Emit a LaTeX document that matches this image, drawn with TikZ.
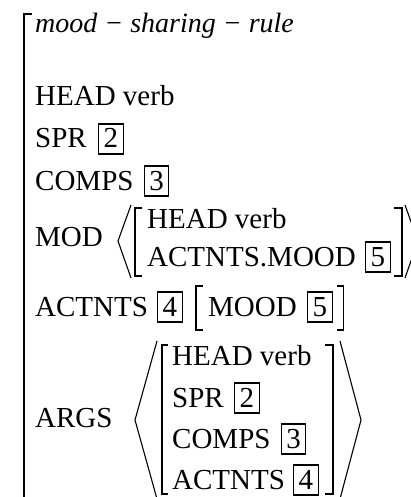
\documentclass[tikz,border=0pt]{standalone}
\usepackage{fontspec}
\setmainfont{Liberation Serif}
\usepackage{tikz}
\usetikzlibrary{positioning}

\tikzset{
  feat/.style={anchor=base west, inner sep=0pt},
  tagbox/.style={draw, line width=1.1pt, inner xsep=5pt, inner ysep=0pt,
    text height=24pt, text depth=6pt},
  brk/.style={line width=1.1pt, line join=miter}
}

\begin{document}
\begin{tikzpicture}[x=1pt, y=-1pt, font=\fontsize{29}{35}\selectfont]
    \useasboundingbox (0,0) rectangle (411,497);
    \clip (0,0) rectangle (411,497);

    % Outer matrix bracket (left side only)
    \draw[line width=1.8pt] (32,14) -- (24,14) -- (24,505);

    % Type of the rule
    \node[feat, font=\fontsize{28}{34}\selectfont] (type) at (35,33) {\textit{mood − sharing − rule}};

    % Plain features
    \node[feat] (head) at (35,106) {HEAD verb};
    \node[feat] (spr) at (35,148) {SPR};
    \node[tagbox, right=11pt of spr.base east, anchor=base west] (sprtag) {2};
    \node[feat] (comps) at (35,190) {COMPS};
    \node[tagbox, right=10pt of comps.base east, anchor=base west] (compstag) {3};

    % MOD < [ ... ] >
    \node[feat] (mod) at (35,246) {MOD};
    \node[feat] (modhead) at (147,228) {HEAD verb};
    \node[feat] (modmood) at (147,266) {ACTNTS.MOOD};
    \node[tagbox, right=9pt of modmood.base east, anchor=base west] (modtag) {5};
    \draw[brk] (131,205) -- (118,241) -- (131,278);
    \draw[brk] (142,208) -- (135,208) -- (135,276) -- (142,276);
    \draw[brk] (394,208) -- (402,208) -- (402,276) -- (394,276);
    \draw[brk] (405,205) -- (418,241) -- (405,278);

    % ACTNTS [4] [ MOOD [5] ]
    \node[feat] (actnts) at (35,316) {ACTNTS};
    \node[tagbox, right=9pt of actnts.base east, anchor=base west] (acttag) {4};
    \node[feat] (mood) at (208,316) {MOOD};
    \node[tagbox, right=10pt of mood.base east, anchor=base west] (moodtag) {5};
    \draw[brk] (203,286) -- (196,286) -- (196,330) -- (203,330);
    \draw[brk] (moodtag.east |- 0,286) ++(4,0) -- ++(7,0) -- ++(0,44) -- ++(-7,0);

    % ARGS < [ ... ] >
    \node[feat] (args) at (35,427) {ARGS};
    \node[feat] (arghead) at (172,365) {HEAD verb};
    \node[feat] (argspr) at (172,407) {SPR};
    \node[tagbox, right=10pt of argspr.base east, anchor=base west] {2};
    \node[feat] (argcomps) at (172,448) {COMPS};
    \node[tagbox, right=10pt of argcomps.base east, anchor=base west] {3};
    \node[feat] (argact) at (172,489) {ACTNTS};
    \node[tagbox, right=8pt of argact.base east, anchor=base west] {4};
    \draw[brk] (157,341) -- (135,420) -- (157,499);
    \draw[brk] (168,345) -- (162,345) -- (162,494) -- (168,494);
    \draw[brk] (325,345) -- (333,345) -- (333,494) -- (325,494);
    \draw[brk] (340,341) -- (361,420) -- (340,499);
\end{tikzpicture}
\end{document}
